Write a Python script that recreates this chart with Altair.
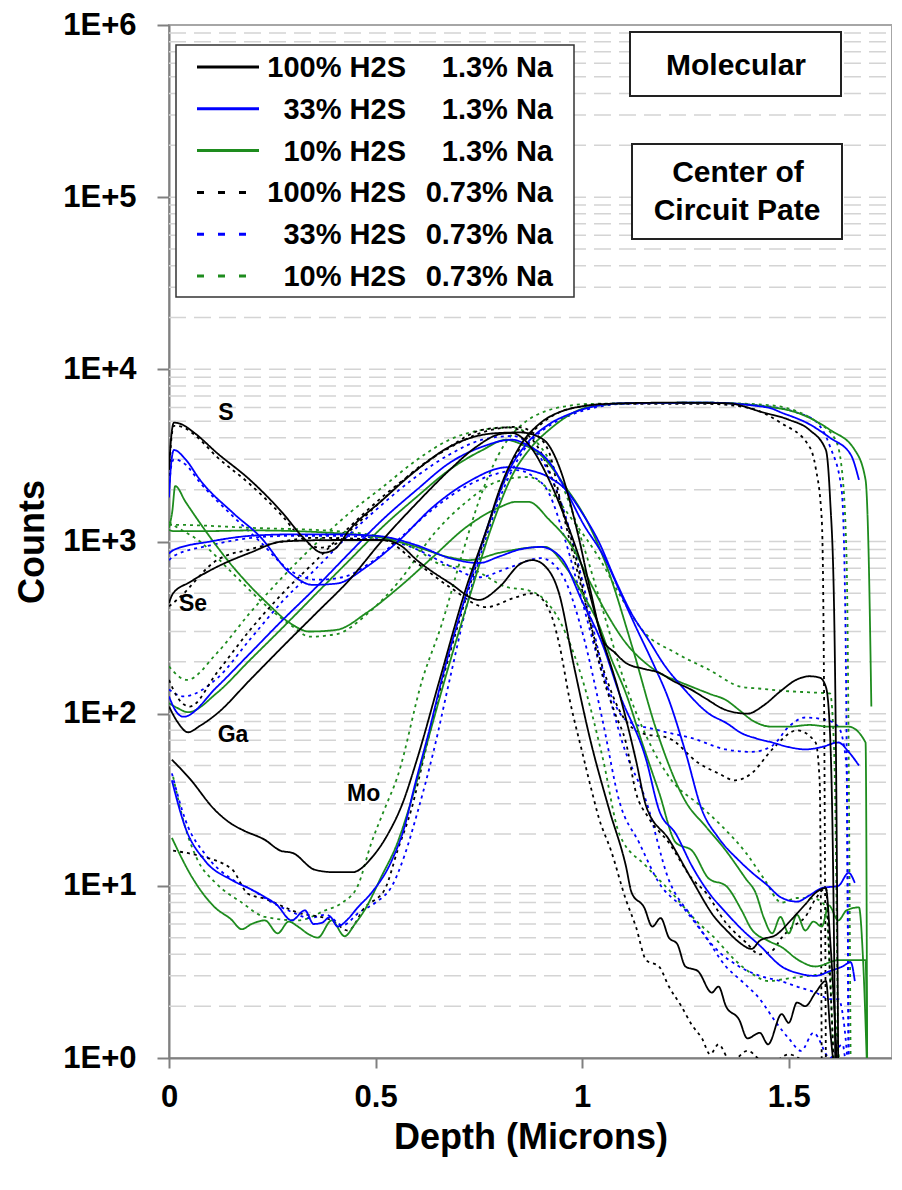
import altair as alt
import pandas as pd

# ---------------- data ----------------
# k1 = 100% H2S 1.3% Na (black solid), b1 = 33% (blue solid), g1 = 10% (green solid)
# k2/b2/g2 = same with 0.73% Na (dotted)

K1_S_D = [0.0, 0.006, 0.012, 0.03, 0.06, 0.116, 0.196, 0.275, 0.324, 0.372, 0.4, 0.437, 0.517, 0.6, 0.679, 0.758, 0.8, 0.85, 0.89, 0.92, 0.95, 0.99, 1.02, 1.05, 1.08, 1.106, 1.15, 1.186, 1.22, 1.266, 1.3, 1.348, 1.4, 1.44, 1.48, 1.52, 1.55, 1.575, 1.59, 1.6, 1.607, 1.613]
K1_S_C = [2600, 4200, 4900, 4800, 4300, 3270, 2280, 1465, 1060, 860, 900, 1170, 1745, 2610, 3550, 4160, 4270, 4300, 4100, 3600, 2500, 1100, 520, 270, 225, 197, 182, 173, 155, 137, 122, 105, 100, 112, 135, 158, 165, 162, 143, 77, 15, 0.8]
K1_GA_D = [0.0, 0.02, 0.046, 0.075, 0.116, 0.196, 0.275, 0.357, 0.437, 0.517, 0.6, 0.679, 0.744, 0.8, 0.83, 0.865, 0.92, 0.96, 1.0, 1.04, 1.09, 1.13, 1.155, 1.21, 1.266, 1.32, 1.35, 1.38, 1.41, 1.43, 1.47, 1.51, 1.54, 1.565, 1.59, 1.6, 1.61, 1.618]
K1_GA_C = [110, 90, 78, 85, 100, 157, 245, 385, 600, 1020, 1675, 2600, 3550, 4200, 4270, 3790, 2280, 1340, 712, 319, 131, 54, 29, 18.6, 10.8, 6.6, 5.5, 4.7, 4.3, 4.8, 5.2, 6.5, 7.8, 9.1, 9.7, 5, 2, 0.8]
K1_SE_D = [0.0, 0.01, 0.05, 0.116, 0.196, 0.275, 0.4, 0.517, 0.56, 0.6, 0.679, 0.75, 0.8, 0.85, 0.88, 0.91, 0.944, 0.98, 1.02, 1.065, 1.106, 1.12, 1.15, 1.17, 1.19, 1.21, 1.23, 1.25, 1.28, 1.314, 1.33, 1.348, 1.38, 1.4, 1.43, 1.45, 1.483, 1.5, 1.52, 1.54, 1.565, 1.59, 1.6, 1.607, 1.613]
K1_SE_C = [440, 500, 580, 712, 860, 1000, 1020, 1020, 950, 780, 575, 458, 545, 740, 780, 720, 500, 190, 70, 28, 13, 9.1, 7.5, 5.8, 6.5, 5, 4.6, 3.4, 3.2, 2.4, 2.6, 2.0, 1.67, 1.3, 1.4, 1.2, 1.8, 1.6, 2.1, 2.0, 2.4, 2.8, 1.5, 1.0, 0.8]
K1_MO_D = [0.007, 0.05, 0.111, 0.15, 0.18, 0.232, 0.27, 0.3, 0.353, 0.4, 0.444, 0.493, 0.53, 0.565, 0.6, 0.655, 0.72, 0.77, 0.8, 0.85, 0.9, 0.95, 1.0, 1.06, 1.2, 1.35, 1.44, 1.5, 1.55, 1.59, 1.6, 1.61, 1.615, 1.62]
K1_MO_C = [54, 42, 27.6, 23, 21, 18.5, 16, 15.5, 12.4, 12, 12, 14.8, 20, 30, 54, 157, 545, 1200, 2000, 3600, 4900, 5700, 6100, 6300, 6400, 6350, 5600, 5100, 4450, 3400, 1800, 385, 41, 0.8]

K2_S_D = [0.0, 0.006, 0.012, 0.03, 0.06, 0.116, 0.196, 0.275, 0.32, 0.365, 0.4, 0.437, 0.517, 0.6, 0.679, 0.758, 0.84, 0.88, 0.92, 0.95, 1.0, 1.05, 1.1, 1.145, 1.21, 1.28, 1.33, 1.37, 1.41, 1.46, 1.52, 1.565, 1.575, 1.58]
K2_S_C = [2400, 4000, 4700, 4650, 4200, 3100, 2150, 1400, 1050, 920, 960, 1150, 1750, 2650, 3500, 4300, 4630, 4300, 3300, 1600, 520, 185, 95, 77, 72, 52, 45, 41, 45, 62, 80, 68, 40, 0.8]
K2_GA_D = [0.0, 0.02, 0.05, 0.116, 0.196, 0.275, 0.357, 0.437, 0.517, 0.6, 0.679, 0.758, 0.82, 0.86, 0.9, 0.94, 0.98, 1.02, 1.05, 1.08, 1.106, 1.13, 1.16, 1.21, 1.266, 1.3, 1.348, 1.396, 1.43, 1.46, 1.483, 1.51, 1.54, 1.565, 1.59, 1.6, 1.61]
K2_GA_C = [157, 125, 110, 173, 306, 500, 780, 1215, 1820, 2610, 3550, 4450, 4600, 4300, 3300, 1900, 900, 330, 164, 100, 68, 35, 25, 17.8, 11, 9.1, 6.1, 4.7, 4.0, 4.2, 5.0, 5.8, 6.6, 8.4, 9.7, 3, 0.8]
K2_SE_D = [0.0, 0.02, 0.116, 0.196, 0.275, 0.35, 0.517, 0.6, 0.679, 0.768, 0.84, 0.88, 0.92, 0.944, 0.97, 1.0, 1.024, 1.04, 1.07, 1.106, 1.13, 1.155, 1.186, 1.21, 1.24, 1.266, 1.29, 1.31, 1.33, 1.36, 1.4, 1.45, 1.5, 1.55, 1.58]
K2_SE_C = [420, 460, 780, 900, 1000, 1050, 1020, 750, 545, 416, 475, 500, 400, 257, 120, 60, 35, 25, 16, 8.3, 5.8, 3.7, 3.4, 2.6, 2.0, 1.55, 1.3, 1.05, 1.2, 0.95, 1.1, 0.9, 1.05, 0.9, 0.8]
K2_MO_D = [0.01, 0.07, 0.152, 0.191, 0.232, 0.312, 0.394, 0.433, 0.474, 0.522, 0.553, 0.587, 0.62, 0.66, 0.7, 0.75, 0.8, 0.85, 0.9, 0.95, 1.0, 1.06, 1.3, 1.4, 1.48, 1.55, 1.565, 1.58, 1.585, 1.59]
K2_MO_C = [16, 15, 12.5, 9, 8.4, 7, 6.3, 5.5, 7.5, 9.5, 16, 28, 60, 150, 330, 820, 1900, 3500, 4800, 5700, 6100, 6300, 6300, 6000, 4900, 3560, 2700, 1340, 200, 0.8]

B1_S_D = [0.0, 0.005, 0.012, 0.04, 0.075, 0.155, 0.22, 0.292, 0.348, 0.406, 0.478, 0.558, 0.638, 0.72, 0.82, 0.87, 0.92, 0.96, 1.0, 1.04, 1.08, 1.12, 1.16, 1.2, 1.24, 1.307, 1.35, 1.386, 1.42, 1.46, 1.5, 1.54, 1.58, 1.62, 1.645, 1.67]
B1_S_C = [1800, 2800, 3400, 3000, 2280, 1465, 1070, 660, 560, 570, 712, 1020, 1580, 2190, 2700, 2600, 2360, 2000, 1465, 1000, 600, 380, 270, 190, 145, 100, 88, 77, 72, 68, 64, 62, 64, 68, 60, 50]
B1_GA_D = [0.0, 0.015, 0.035, 0.116, 0.196, 0.275, 0.357, 0.437, 0.517, 0.6, 0.679, 0.758, 0.83, 0.87, 0.92, 0.96, 1.0, 1.057, 1.09, 1.13, 1.17, 1.21, 1.25, 1.29, 1.33, 1.38, 1.41, 1.45, 1.48, 1.52, 1.55, 1.58, 1.62, 1.645, 1.66]
B1_GA_C = [126, 105, 96, 143, 224, 350, 545, 860, 1340, 2000, 2860, 3550, 3900, 3600, 2900, 2000, 1300, 780, 520, 319, 200, 120, 60, 27.6, 19, 14, 12, 10, 8.6, 8.1, 8.8, 9.7, 10, 11.9, 10.4]
B1_SE_D = [0.0, 0.01, 0.1, 0.2, 0.3, 0.4, 0.5, 0.6, 0.68, 0.75, 0.8, 0.85, 0.9, 0.95, 1.0, 1.05, 1.09, 1.155, 1.186, 1.227, 1.266, 1.307, 1.348, 1.386, 1.43, 1.483, 1.524, 1.565, 1.6, 1.63, 1.65, 1.66]
B1_SE_C = [850, 890, 1000, 1080, 1100, 1100, 1080, 950, 800, 750, 820, 900, 930, 800, 450, 250, 131, 54, 27.6, 20, 13, 9.1, 7, 5.6, 4.5, 3.4, 3.1, 3.0, 3.2, 3.4, 3.6, 2.8]
B1_MO_D = [0.007, 0.039, 0.087, 0.152, 0.2, 0.232, 0.26, 0.297, 0.329, 0.35, 0.37, 0.39, 0.408, 0.43, 0.457, 0.49, 0.539, 0.57, 0.594, 0.63, 0.66, 0.72, 0.77, 0.82, 0.87, 0.92, 0.97, 1.03, 1.1, 1.3, 1.45, 1.483, 1.55, 1.6, 1.65, 1.67]
B1_MO_C = [41, 22, 14, 10.8, 9.5, 8.6, 7.8, 6.3, 7.2, 6.0, 6.1, 6.6, 5.8, 6.3, 7.5, 9.1, 14, 22, 37.6, 80, 157, 500, 1200, 2500, 3800, 4800, 5500, 6100, 6350, 6400, 6000, 5600, 4800, 4000, 3200, 2280]

G1_S_D = [0.0, 0.008, 0.015, 0.04, 0.075, 0.155, 0.237, 0.292, 0.34, 0.406, 0.478, 0.558, 0.638, 0.72, 0.8, 0.84, 0.87, 0.92, 0.976, 1.024, 1.06, 1.106, 1.15, 1.186, 1.23, 1.266, 1.31, 1.348, 1.38, 1.41, 1.46, 1.5, 1.55, 1.6, 1.645, 1.686, 1.69]
G1_S_C = [1200, 1500, 2100, 1700, 1280, 712, 440, 337, 300, 307, 385, 545, 810, 1215, 1580, 1700, 1700, 1340, 930, 550, 380, 257, 200, 173, 155, 143, 130, 120, 105, 92, 84, 84, 86, 84, 84, 68, 0.8]
G1_GA_D = [0.0, 0.02, 0.046, 0.116, 0.196, 0.275, 0.357, 0.437, 0.517, 0.6, 0.679, 0.758, 0.816, 0.85, 0.896, 0.96, 1.01, 1.06, 1.12, 1.18, 1.25, 1.3, 1.348, 1.396, 1.42, 1.44, 1.46, 1.48, 1.5, 1.52, 1.54, 1.56, 1.58, 1.597, 1.62, 1.64, 1.67, 1.68, 1.69]
G1_GA_C = [115, 108, 102, 132, 205, 316, 500, 780, 1215, 1820, 2610, 3390, 3900, 3700, 3240, 2070, 1340, 712, 250, 80, 31, 22, 16, 11, 9.1, 6.5, 5.3, 6.6, 5.3, 6.8, 5.5, 6.2, 5.8, 7.7, 6.3, 7.2, 7.5, 3.7, 0.8]
G1_SE_D = [0.0, 0.01, 0.1, 0.2, 0.3, 0.4, 0.517, 0.6, 0.679, 0.727, 0.8, 0.87, 0.91, 0.96, 1.0, 1.04, 1.07, 1.106, 1.145, 1.186, 1.227, 1.266, 1.307, 1.348, 1.386, 1.41, 1.45, 1.483, 1.524, 1.565, 1.62, 1.686, 1.69]
G1_SE_C = [1170, 1150, 1150, 1160, 1150, 1120, 1050, 930, 810, 780, 860, 920, 930, 712, 500, 330, 210, 131, 68, 35, 17.8, 16, 11, 10, 7.2, 5.6, 4.8, 4.4, 3.7, 3.4, 3.7, 3.7, 0.8]
G1_MO_D = [0.007, 0.055, 0.111, 0.15, 0.176, 0.2, 0.232, 0.263, 0.29, 0.312, 0.34, 0.36, 0.394, 0.425, 0.45, 0.473, 0.514, 0.553, 0.587, 0.63, 0.68, 0.73, 0.78, 0.83, 0.88, 0.92, 1.0, 1.05, 1.1, 1.3, 1.483, 1.6, 1.66, 1.686, 1.693, 1.7]
G1_MO_C = [19, 11.3, 7.5, 6.4, 5.6, 6.0, 6.3, 5.3, 6.2, 5.8, 5.2, 5.0, 6.3, 5.1, 6.0, 7.2, 11.3, 17.8, 31.6, 75, 200, 500, 1200, 2400, 3600, 4450, 5900, 6200, 6350, 6400, 5900, 4450, 3400, 2280, 930, 110]

B2_S_D = [0.0, 0.005, 0.012, 0.04, 0.075, 0.155, 0.22, 0.292, 0.36, 0.42, 0.49, 0.56, 0.64, 0.72, 0.8, 0.84, 0.88, 0.92, 0.96, 1.0, 1.05, 1.106, 1.186, 1.266, 1.348, 1.41, 1.46, 1.5, 1.54, 1.59, 1.62, 1.64, 1.645]
B2_S_C = [2000, 2700, 3000, 2800, 2200, 1400, 1000, 680, 600, 620, 760, 1050, 1550, 2100, 2500, 2600, 2400, 1900, 1000, 450, 170, 92, 80, 72, 62, 60, 65, 84, 95, 92, 84, 50, 0.8]
B2_GA_D = [0.0, 0.035, 0.116, 0.196, 0.275, 0.357, 0.437, 0.517, 0.6, 0.679, 0.758, 0.83, 0.88, 0.92, 0.96, 1.0, 1.05, 1.1, 1.155, 1.21, 1.266, 1.32, 1.38, 1.43, 1.48, 1.52, 1.565, 1.6, 1.62, 1.635, 1.645]
B2_GA_C = [138, 126, 160, 270, 450, 700, 1100, 1650, 2400, 3200, 3900, 4100, 3500, 2500, 1400, 600, 180, 65, 31, 10.8, 6.6, 4.4, 3.4, 3.0, 2.8, 2.6, 2.4, 2.2, 2.2, 1.5, 0.8]
B2_SE_D = [0.0, 0.01, 0.1, 0.2, 0.3, 0.4, 0.5, 0.6, 0.68, 0.75, 0.82, 0.9, 0.95, 1.0, 1.05, 1.09, 1.138, 1.186, 1.25, 1.3, 1.348, 1.386, 1.43, 1.47, 1.5, 1.53, 1.56, 1.6, 1.63, 1.64]
B2_SE_C = [780, 820, 950, 1050, 1080, 1080, 1050, 900, 720, 620, 700, 800, 650, 300, 90, 31, 17.8, 10.4, 7.2, 5.0, 3.4, 2.8, 2.2, 1.6, 1.3, 1.1, 1.4, 1.0, 1.2, 0.8]
B2_MO_D = [0.007, 0.04, 0.09, 0.15, 0.2, 0.25, 0.3, 0.34, 0.38, 0.42, 0.46, 0.5, 0.54, 0.57, 0.6, 0.64, 0.68, 0.72, 0.77, 0.82, 0.87, 0.92, 0.97, 1.03, 1.1, 1.3, 1.45, 1.52, 1.565, 1.6, 1.628, 1.637, 1.645]
B2_MO_C = [45, 24, 15, 11, 9.5, 8.0, 7.0, 6.5, 6.8, 5.9, 7.0, 8.0, 10, 15, 26, 60, 160, 420, 1100, 2300, 3700, 4700, 5400, 6000, 6300, 6400, 6100, 5600, 5000, 3560, 2000, 385, 0.8]

G2_S_D = [0.0, 0.01, 0.075, 0.155, 0.237, 0.3, 0.34, 0.406, 0.48, 0.56, 0.64, 0.72, 0.8, 0.87, 0.913, 0.976, 1.04, 1.1, 1.145, 1.227, 1.307, 1.386, 1.427, 1.5, 1.55, 1.6, 1.61, 1.62]
G2_S_C = [1300, 1250, 1000, 650, 420, 320, 280, 290, 380, 600, 1100, 1700, 2250, 2370, 2070, 1340, 810, 450, 307, 225, 180, 143, 140, 135, 133, 131, 60, 0.8]
G2_GA_D = [0.0, 0.043, 0.116, 0.196, 0.275, 0.357, 0.437, 0.517, 0.6, 0.679, 0.758, 0.83, 0.88, 0.92, 0.96, 1.0, 1.05, 1.1, 1.16, 1.22, 1.28, 1.34, 1.396, 1.44, 1.483, 1.52, 1.565, 1.59, 1.6, 1.61]
G2_GA_C = [188, 157, 225, 385, 622, 980, 1465, 2070, 2980, 3900, 4450, 4600, 4000, 3000, 1900, 1000, 400, 160, 70, 40, 30, 22, 15.6, 11, 8, 8.5, 8.4, 7.5, 3, 0.8]
G2_SE_D = [0.0, 0.01, 0.2, 0.4, 0.5, 0.6, 0.655, 0.734, 0.816, 0.87, 0.9, 0.95, 1.0, 1.05, 1.09, 1.155, 1.217, 1.275, 1.32, 1.37, 1.41, 1.45, 1.5, 1.55, 1.6, 1.615, 1.625]
G2_SE_C = [1250, 1250, 1200, 1150, 1080, 900, 740, 690, 545, 520, 480, 330, 160, 55, 20, 13, 9.1, 6.3, 5.0, 3.7, 3.1, 2.8, 2.9, 3.0, 3.1, 1.5, 0.8]
G2_MO_D = [0.01, 0.039, 0.07, 0.111, 0.176, 0.232, 0.312, 0.378, 0.42, 0.457, 0.49, 0.522, 0.553, 0.613, 0.66, 0.71, 0.76, 0.81, 0.86, 0.91, 0.96, 1.02, 1.3, 1.45, 1.52, 1.565, 1.613, 1.628, 1.64, 1.65]
G2_MO_C = [43, 22, 14, 10.5, 8, 6.6, 6.3, 7.2, 8, 10, 17.8, 28, 43, 157, 330, 850, 2000, 3600, 4900, 5700, 6100, 6300, 6400, 6200, 5700, 5000, 3900, 2700, 800, 0.8]

SAMPLE_IDS = ["k1", "b1", "g1", "k2", "b2", "g2"]
LEGEND_H2S = ["100% H2S", "33% H2S", "10% H2S", "100% H2S", "33% H2S", "10% H2S"]
LEGEND_NA = ["1.3% Na", "1.3% Na", "1.3% Na", "0.73% Na", "0.73% Na", "0.73% Na"]

ELEMENT_LABELS = ["S", "Se", "Ga", "Mo"]
LABEL_DEPTH = [0.138, 0.058, 0.155, 0.471]
LABEL_COUNTS = [5580, 434, 75, 34]

DEPTH_TICKS = [0, 0.5, 1, 1.5]
COUNT_TICKS = [1, 10, 100, 1000, 10000, 100000, 1000000]
GRID_MANTISSAS = [1, 2, 3, 4, 5, 6, 7, 8, 9]

# ---------------- styles ----------------
FONT = "Liberation Sans"
COLORS = {"k1": "#000000", "b1": "#0000ff", "g1": "#1e8c1e",
          "k2": "#000000", "b2": "#0000ff", "g2": "#1e8c1e"}
DASH = {"k1": [1, 0], "b1": [1, 0], "g1": [1, 0],
        "k2": [3, 4], "b2": [3, 4], "g2": [3, 4]}
LEG_DASH = {"k1": [1, 0], "b1": [1, 0], "g1": [1, 0],
            "k2": [7, 14], "b2": [7, 14], "g2": [7, 14]}

SERIES = [
    ("k1", "S", K1_S_D, K1_S_C), ("k1", "Ga", K1_GA_D, K1_GA_C), ("k1", "Se", K1_SE_D, K1_SE_C), ("k1", "Mo", K1_MO_D, K1_MO_C),
    ("k2", "S", K2_S_D, K2_S_C), ("k2", "Ga", K2_GA_D, K2_GA_C), ("k2", "Se", K2_SE_D, K2_SE_C), ("k2", "Mo", K2_MO_D, K2_MO_C),
    ("b1", "S", B1_S_D, B1_S_C), ("b1", "Ga", B1_GA_D, B1_GA_C), ("b1", "Se", B1_SE_D, B1_SE_C), ("b1", "Mo", B1_MO_D, B1_MO_C),
    ("g1", "S", G1_S_D, G1_S_C), ("g1", "Ga", G1_GA_D, G1_GA_C), ("g1", "Se", G1_SE_D, G1_SE_C), ("g1", "Mo", G1_MO_D, G1_MO_C),
    ("b2", "S", B2_S_D, B2_S_C), ("b2", "Ga", B2_GA_D, B2_GA_C), ("b2", "Se", B2_SE_D, B2_SE_C), ("b2", "Mo", B2_MO_D, B2_MO_C),
    ("g2", "S", G2_S_D, G2_S_C), ("g2", "Ga", G2_GA_D, G2_GA_C), ("g2", "Se", G2_SE_D, G2_SE_C), ("g2", "Mo", G2_MO_D, G2_MO_C),
]

rows = []
for sid, el, ds, cs in SERIES:
    assert len(ds) == len(cs), (sid, el, len(ds), len(cs))
    for d, c in zip(ds, cs):
        rows.append({"depth": d, "counts": c, "sample": sid, "series": sid + "_" + el})
df = pd.DataFrame(rows)

W, H = 723, 1033
xscale = alt.Scale(domain=[0, 1.75], nice=False, zero=False)
yscale = alt.Scale(type="log", domain=[1, 1000000], nice=False)

x_axis = alt.Axis(values=DEPTH_TICKS, format="~g", title="Depth (Microns)", grid=False,
                  tickSize=10, tickWidth=2, tickColor="#808080", domainColor="#808080", domainWidth=2,
                  labelFontSize=31, labelFont=FONT, labelFontWeight="bold", labelColor="black",
                  labelPadding=14, labelFlush=False,
                  titleFont=FONT, titleFontSize=36, titleFontWeight="bold", titleColor="black",
                  titleY=90, titleBaseline="alphabetic")
y_axis = alt.Axis(values=COUNT_TICKS, labelExpr="'1E+' + round(log(datum.value) / LN10)",
                  title="Counts", grid=False,
                  tickSize=12, tickWidth=2, tickColor="#808080", domainColor="#808080", domainWidth=2,
                  labelFontSize=31, labelFont=FONT, labelFontWeight="bold", labelColor="black",
                  labelPadding=21, labelFlush=False,
                  titleFont=FONT, titleFontSize=36, titleFontWeight="bold", titleColor="black",
                  titleX=-126, titleY=H / 2, titleBaseline="alphabetic", titleAngle=270)

X = alt.X("depth:Q", scale=xscale, axis=x_axis)
Y = alt.Y("counts:Q", scale=yscale, axis=y_axis)

grid_vals = [m * 10 ** e for e in range(0, 6) for m in GRID_MANTISSAS if not (e == 0 and m == 1)]
grid_df = pd.DataFrame({"counts": grid_vals, "depth": [0.0] * len(grid_vals)})
grid = alt.Chart(grid_df).mark_rule(
    color="#d4d4d4", strokeWidth=1.5, strokeDash=[17, 8]
).encode(y=Y, x=alt.value(0), x2=alt.value(W))

line_layers = []
for sid in ["g2", "b2", "k2", "g1", "b1", "k1"]:
    line_layers.append(
        alt.Chart(df[df["sample"] == sid]).mark_line(
            clip=True, strokeWidth=1.8, color=COLORS[sid], strokeDash=DASH[sid], interpolate="monotone"
        ).encode(x=X, y=Y, detail="series:N")
    )

lab_df = pd.DataFrame({"t": ELEMENT_LABELS, "depth": LABEL_DEPTH, "counts": LABEL_COUNTS})
labels = alt.Chart(lab_df).mark_text(
    font=FONT, fontSize=23, fontWeight="bold", color="black", align="center", baseline="middle"
).encode(x=X, y=Y, text="t:N")

one = pd.DataFrame({"k": [0]})


def box(x1, x2, y1, y2, sw=2, stroke="#222222"):
    return alt.Chart(one).mark_rect(fill="white", stroke=stroke, strokeWidth=sw).encode(
        x=alt.value(x1), x2=alt.value(x2), y=alt.value(y1), y2=alt.value(y2))


def txt(s, x, y, size, align="center"):
    return alt.Chart(one).mark_text(
        text=s, font=FONT, fontSize=size, fontWeight="bold", color="black", align=align, baseline="alphabetic"
    ).encode(x=alt.value(x), y=alt.value(y))


annot = [box(7, 405, 20, 272, sw=1.5, stroke="#333333")]
row_y0, row_dy = 42, 41.8
for i, sid in enumerate(SAMPLE_IDS):
    yy = row_y0 + i * row_dy
    x_end = 90 if DASH[sid] == [1, 0] else 80
    annot.append(
        alt.Chart(one).mark_rule(color=COLORS[sid], strokeWidth=3, strokeDash=LEG_DASH[sid]).encode(
            x=alt.value(28), x2=alt.value(x_end), y=alt.value(yy))
    )
    annot.append(txt(LEGEND_H2S[i], 237, yy + 10, 29, align="right"))
    annot.append(txt(LEGEND_NA[i], 384, yy + 10, 29, align="right"))

annot.append(box(461, 672, 7, 71))
annot.append(txt("Molecular", 567, 50, 30))
annot.append(box(463, 673, 119, 214))
annot.append(txt("Center of", 569, 157, 30))
annot.append(txt("Circuit Pate", 568, 195, 30))

chart = alt.layer(grid, *line_layers, labels, *annot).properties(
    width=W, height=H,
    autosize=alt.AutoSizeParams(type="none"),
    padding={"left": 161, "top": 17, "right": 0, "bottom": 100},
    background="white",
).configure_view(stroke="#a6a6a6", strokeWidth=2)

chart.save("out.html", embed_options={"renderer": "svg", "actions": False})
